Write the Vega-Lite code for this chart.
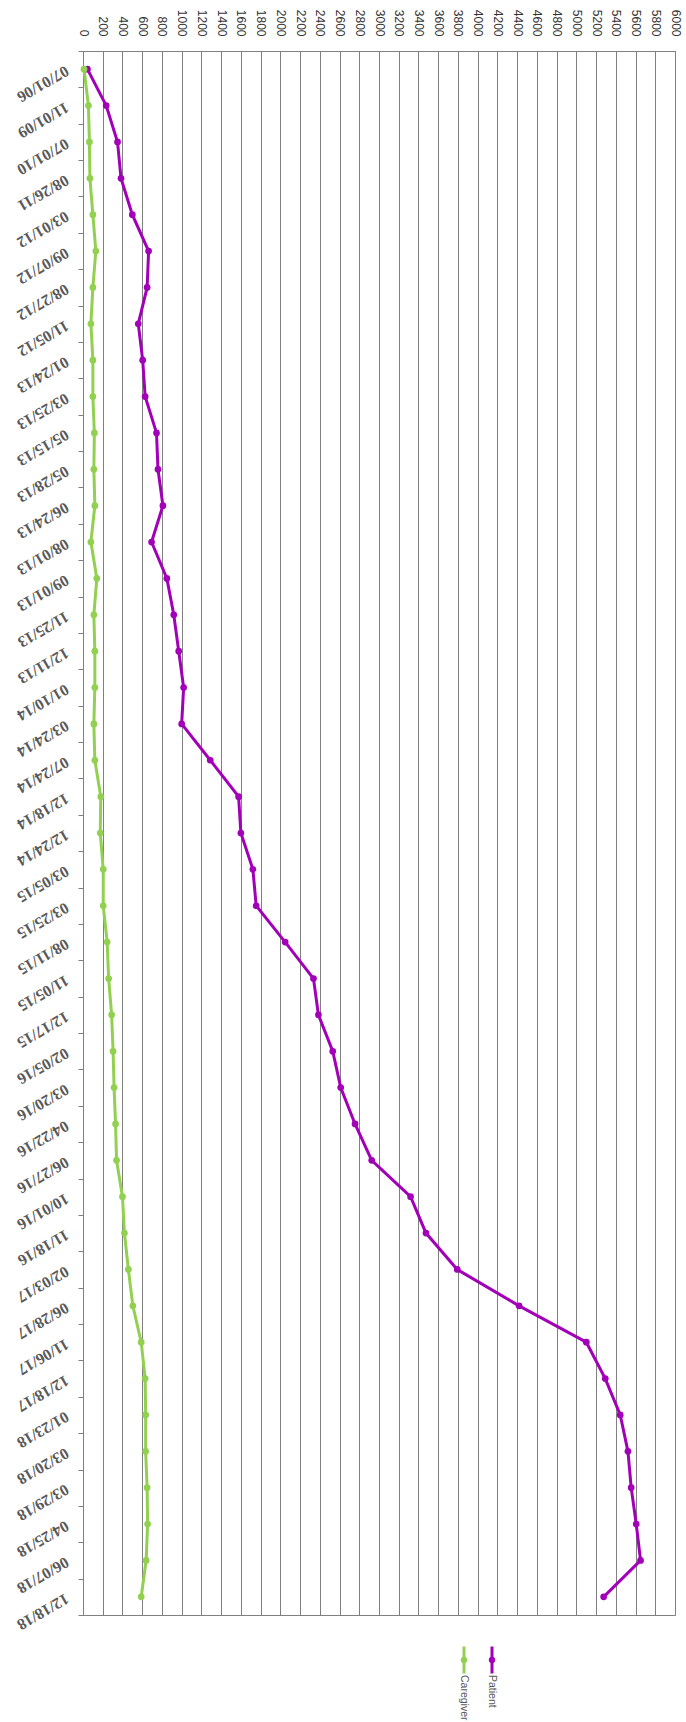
{
  "$schema": "https://vega.github.io/schema/vega-lite/v6.json",
  "padding": {"left": 13, "top": 8, "right": 0, "bottom": 0},
  "background": "white",
  "datasets": {
    "main": [
      {"date": "07/01/06", "series": "Patient", "value": 45},
      {"date": "11/01/09", "series": "Patient", "value": 235},
      {"date": "07/01/10", "series": "Patient", "value": 350},
      {"date": "08/26/11", "series": "Patient", "value": 385},
      {"date": "03/01/12", "series": "Patient", "value": 500},
      {"date": "09/07/12", "series": "Patient", "value": 665},
      {"date": "08/27/12", "series": "Patient", "value": 650},
      {"date": "11/05/12", "series": "Patient", "value": 560},
      {"date": "01/24/13", "series": "Patient", "value": 605},
      {"date": "03/25/13", "series": "Patient", "value": 630},
      {"date": "05/15/13", "series": "Patient", "value": 745},
      {"date": "05/28/13", "series": "Patient", "value": 760},
      {"date": "06/24/13", "series": "Patient", "value": 810},
      {"date": "08/01/13", "series": "Patient", "value": 695},
      {"date": "09/01/13", "series": "Patient", "value": 850},
      {"date": "11/25/13", "series": "Patient", "value": 920},
      {"date": "12/11/13", "series": "Patient", "value": 970},
      {"date": "01/10/14", "series": "Patient", "value": 1020},
      {"date": "03/24/14", "series": "Patient", "value": 1000},
      {"date": "07/24/14", "series": "Patient", "value": 1290},
      {"date": "12/18/14", "series": "Patient", "value": 1577},
      {"date": "12/24/14", "series": "Patient", "value": 1600},
      {"date": "03/05/15", "series": "Patient", "value": 1722},
      {"date": "03/25/15", "series": "Patient", "value": 1755},
      {"date": "08/11/15", "series": "Patient", "value": 2049},
      {"date": "11/05/15", "series": "Patient", "value": 2336},
      {"date": "12/17/15", "series": "Patient", "value": 2386},
      {"date": "02/05/16", "series": "Patient", "value": 2531},
      {"date": "03/20/16", "series": "Patient", "value": 2612},
      {"date": "04/22/16", "series": "Patient", "value": 2757},
      {"date": "06/27/16", "series": "Patient", "value": 2926},
      {"date": "10/01/16", "series": "Patient", "value": 3320},
      {"date": "11/18/16", "series": "Patient", "value": 3476},
      {"date": "02/03/17", "series": "Patient", "value": 3793},
      {"date": "06/28/17", "series": "Patient", "value": 4420},
      {"date": "11/06/17", "series": "Patient", "value": 5101},
      {"date": "12/18/17", "series": "Patient", "value": 5293},
      {"date": "01/23/18", "series": "Patient", "value": 5445},
      {"date": "03/20/18", "series": "Patient", "value": 5523},
      {"date": "03/29/18", "series": "Patient", "value": 5556},
      {"date": "04/25/18", "series": "Patient", "value": 5607},
      {"date": "06/07/18", "series": "Patient", "value": 5651},
      {"date": "12/18/18", "series": "Patient", "value": 5277},
      {"date": "07/01/06", "series": "Caregiver", "value": 10},
      {"date": "11/01/09", "series": "Caregiver", "value": 55},
      {"date": "07/01/10", "series": "Caregiver", "value": 65},
      {"date": "08/26/11", "series": "Caregiver", "value": 70},
      {"date": "03/01/12", "series": "Caregiver", "value": 100},
      {"date": "09/07/12", "series": "Caregiver", "value": 130},
      {"date": "08/27/12", "series": "Caregiver", "value": 100},
      {"date": "11/05/12", "series": "Caregiver", "value": 80},
      {"date": "01/24/13", "series": "Caregiver", "value": 100},
      {"date": "03/25/13", "series": "Caregiver", "value": 100},
      {"date": "05/15/13", "series": "Caregiver", "value": 115},
      {"date": "05/28/13", "series": "Caregiver", "value": 110},
      {"date": "06/24/13", "series": "Caregiver", "value": 120},
      {"date": "08/01/13", "series": "Caregiver", "value": 80},
      {"date": "09/01/13", "series": "Caregiver", "value": 140},
      {"date": "11/25/13", "series": "Caregiver", "value": 110},
      {"date": "12/11/13", "series": "Caregiver", "value": 120},
      {"date": "01/10/14", "series": "Caregiver", "value": 120},
      {"date": "03/24/14", "series": "Caregiver", "value": 110},
      {"date": "07/24/14", "series": "Caregiver", "value": 120},
      {"date": "12/18/14", "series": "Caregiver", "value": 180},
      {"date": "12/24/14", "series": "Caregiver", "value": 175},
      {"date": "03/05/15", "series": "Caregiver", "value": 205},
      {"date": "03/25/15", "series": "Caregiver", "value": 205},
      {"date": "08/11/15", "series": "Caregiver", "value": 245},
      {"date": "11/05/15", "series": "Caregiver", "value": 260},
      {"date": "12/17/15", "series": "Caregiver", "value": 290},
      {"date": "02/05/16", "series": "Caregiver", "value": 305},
      {"date": "03/20/16", "series": "Caregiver", "value": 315},
      {"date": "04/22/16", "series": "Caregiver", "value": 330},
      {"date": "06/27/16", "series": "Caregiver", "value": 340},
      {"date": "10/01/16", "series": "Caregiver", "value": 400},
      {"date": "11/18/16", "series": "Caregiver", "value": 420},
      {"date": "02/03/17", "series": "Caregiver", "value": 460},
      {"date": "06/28/17", "series": "Caregiver", "value": 505},
      {"date": "11/06/17", "series": "Caregiver", "value": 590},
      {"date": "12/18/17", "series": "Caregiver", "value": 630},
      {"date": "01/23/18", "series": "Caregiver", "value": 635},
      {"date": "03/20/18", "series": "Caregiver", "value": 635},
      {"date": "03/29/18", "series": "Caregiver", "value": 650},
      {"date": "04/25/18", "series": "Caregiver", "value": 655},
      {"date": "06/07/18", "series": "Caregiver", "value": 640},
      {"date": "12/18/18", "series": "Caregiver", "value": 590}
    ],
    "legend": [
      {"series": "Caregiver"},
      {"series": "Patient"}
    ]
  },
  "vconcat": [
    {
      "width": 592,
      "height": 1564,
      "data": {"name": "main"},
      "encoding": {
        "y": {
          "field": "date", "type": "ordinal", "sort": null,
          "scale": {"type": "band", "paddingInner": 0, "paddingOuter": 0},
          "axis": {
            "title": null, "grid": false, "tickBand": "extent",
            "tickSize": 5, "tickColor": "#808080", "domainColor": "#808080",
            "labelAngle": 150, "labelAlign": "left", "labelBaseline": "middle",
            "labelPadding": 11, "labelFont": "Liberation Serif", "labelFontWeight": "bold",
            "labelFontSize": 16, "labelColor": "#595959", "labelOverlap": false
          }
        },
        "x": {
          "field": "value", "type": "quantitative",
          "scale": {"domain": [0, 6000], "nice": false, "zero": true},
          "axis": {
            "orient": "top", "title": null, "format": "d",
            "values": [0,200,400,600,800,1000,1200,1400,1600,1800,2000,2200,2400,2600,2800,3000,3200,3400,3600,3800,4000,4200,4400,4600,4800,5000,5200,5400,5600,5800,6000],
            "grid": true, "gridColor": "#808080", "gridWidth": 1, "gridOpacity": 1,
            "ticks": false, "domainColor": "#808080",
            "labelAngle": 90, "labelAlign": "right", "labelBaseline": "middle",
            "labelPadding": 15, "labelFont": "Liberation Sans", "labelFontSize": 12,
            "labelColor": "#333333", "labelOverlap": false, "labelFlush": false
          }
        },
        "color": {
          "field": "series", "type": "nominal",
          "scale": {"domain": ["Caregiver", "Patient"], "range": ["#92D050", "#A200B8"]},
          "legend": null
        }
      },
      "layer": [
        {"mark": {"type": "line", "strokeWidth": 3}, "encoding": {"order": {"value": null}}},
        {"mark": {"type": "point", "filled": true, "size": 45, "opacity": 1}}
      ]
    },
    {
      "width": 592,
      "height": 50,
      "data": {"name": "legend"},
      "view": {"stroke": null},
      "encoding": {
        "x": {
          "field": "series", "type": "nominal",
          "scale": {"type": "point", "padding": 0, "domain": ["Caregiver", "Patient"], "range": [381, 409]},
          "axis": null
        },
        "color": {
          "field": "series", "type": "nominal",
          "scale": {"domain": ["Caregiver", "Patient"], "range": ["#92D050", "#A200B8"]},
          "legend": null
        }
      },
      "layer": [
        {"mark": {"type": "point", "shape": "M0,-1L0,1", "size": 729, "filled": false, "strokeWidth": 3, "opacity": 1}},
        {"mark": {"type": "point", "shape": "circle", "size": 40, "filled": true, "opacity": 1}},
        {"mark": {"type": "text", "angle": 90, "align": "left", "baseline": "middle", "dx": 15, "font": "Liberation Sans", "fontSize": 10.5, "color": "#595959"},
         "encoding": {"text": {"field": "series"}, "color": {"value": "#595959"}}}
      ]
    }
  ],
  "spacing": 20,
  "bounds": "flush",
  "resolve": {"scale": {"x": "independent", "y": "independent", "color": "shared"}},
  "config": {
    "view": {"stroke": "#808080", "strokeWidth": 1}
  }
}
